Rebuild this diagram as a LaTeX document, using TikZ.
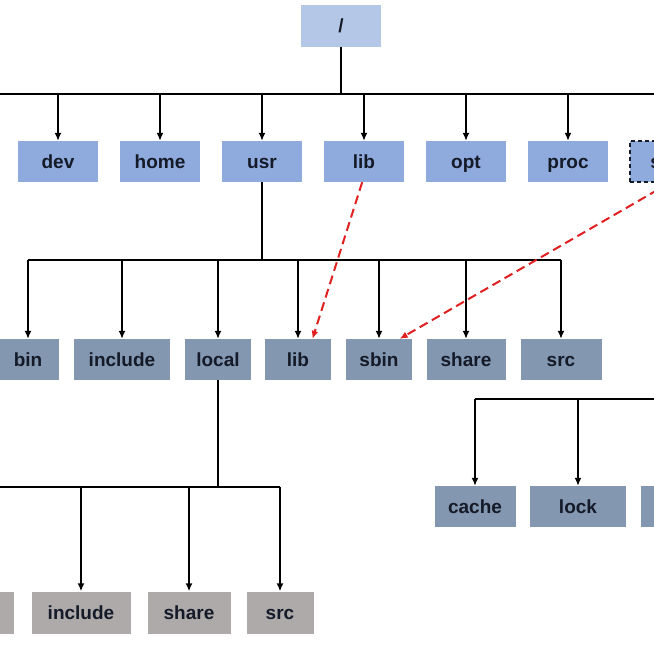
\documentclass[tikz,border=0pt]{standalone}
\usepackage{fontspec}
\setmainfont{Liberation Sans}
\usetikzlibrary{arrows,arrows.meta}
\definecolor{rootblue}{HTML}{B4C7E7}
\definecolor{topblue}{HTML}{8FAADC}
\definecolor{usrgray}{HTML}{8497B0}
\definecolor{localgray}{HTML}{AEAAAA}
\definecolor{linkred}{HTML}{E02020}
\definecolor{inkdark}{HTML}{141A28}
\tikzset{%
	dir/.style={%
		rectangle,
		minimum height=41pt,
		inner sep=0pt,
		text height=13pt,
		text depth=0pt,
		text=inkdark,
		font=\fontsize{19}{20}\selectfont\bfseries
	},
	rootdir/.style={dir, fill=rootblue, minimum width=80pt, minimum height=42pt},
	topdir/.style={dir, fill=topblue, minimum width=80pt},
	usrdir/.style={dir, fill=usrgray, minimum width=#1},
	localdir/.style={dir, fill=localgray, minimum height=42pt, minimum width=#1},
	branch/.style={line width=2.2pt},
	leaf/.style={line width=1.5pt, -{Latex[length=8pt,width=7pt]}},
	link/.style={line width=2pt, draw=linkred, dash pattern=on 9pt off 5pt, -{Latex[length=8pt,width=7pt]}}
}
\begin{document}
\begin{tikzpicture}[x=1pt, y=-1pt]
    \useasboundingbox (0,0) rectangle (654,654);
    \clip (0,0) rectangle (654,654);
    % root and first level
    \node [rootdir] (root) at (341,26) {/};
    \node [topdir] (dev) at (58,161.5) {dev};
    \node [topdir] (home) at (160,161.5) {home};
    \node [topdir] (usr) at (262,161.5) {usr};
    \node [topdir] (lib) at (364,161.5) {lib};
    \node [topdir] (opt) at (466,161.5) {opt};
    \node [topdir] (proc) at (568,161.5) {proc};
    \node [topdir, draw=inkdark, line width=1.4pt, dash pattern=on 4pt off 3pt] (sbin) at (670,161.5) {sbin};
    % /usr
    \node [usrdir=62pt] (ubin) at (28,359.5) {bin};
    \node [usrdir=96pt] (uinclude) at (122,359.5) {include};
    \node [usrdir=66pt] (ulocal) at (218,359.5) {local};
    \node [usrdir=66pt] (ulib) at (298,359.5) {lib};
    \node [usrdir=66pt] (usbin) at (379,359.5) {sbin};
    \node [usrdir=79pt] (ushare) at (466,359.5) {share};
    \node [usrdir=81pt] (usrc) at (561,359.5) {src};
    % /usr/local
    \node [localdir=66pt] (lbin) at (-19,612.5) {};
    \node [localdir=99pt] (linclude) at (81,612.5) {include};
    \node [localdir=83pt] (lshare) at (189,612.5) {share};
    \node [localdir=67pt] (lsrc) at (280,612.5) {src};
    % right group
    \node [usrdir=81pt] (vcache) at (475,506.5) {cache};
    \node [usrdir=96pt] (vlock) at (578,506.5) {lock};
    \node [usrdir=80pt] (vlog) at (681,506.5) {};

    \coordinate (bus0) at (341,94);
    \coordinate (bus1) at (262,260);
    \coordinate (bus2) at (218,487);
    \coordinate (bus3) at (475,399);

    \draw [branch] (root.south) -- (bus0);
    \draw [branch] (-60,94) -- (720,94);
    \foreach \n in {dev,home,usr,lib,opt,proc,sbin}
        \draw [leaf] (\n |- bus0) -- (\n.north);

    \draw [branch] (usr.south) -- (bus1);
    \draw [branch] (ubin |- bus1) -- (usrc |- bus1);
    \foreach \n in {ubin,uinclude,ulocal,ulib,usbin,ushare,usrc}
        \draw [leaf] (\n |- bus1) -- (\n.north);

    \draw [branch] (ulocal.south) -- (bus2);
    \draw [branch] (lbin |- bus2) -- (lsrc |- bus2);
    \foreach \n in {lbin,linclude,lshare,lsrc}
        \draw [leaf] (\n |- bus2) -- (\n.north);

    \draw [branch] (bus3) -- (vlog |- bus3);
    \foreach \n in {vcache,vlock,vlog}
        \draw [leaf] (\n |- bus3) -- (\n.north);

    % symlinks
    \draw [link] (lib.265) -- (ulib.55);
    \draw [link] (sbin.south) -- (usbin.45);
\end{tikzpicture}
\end{document}
